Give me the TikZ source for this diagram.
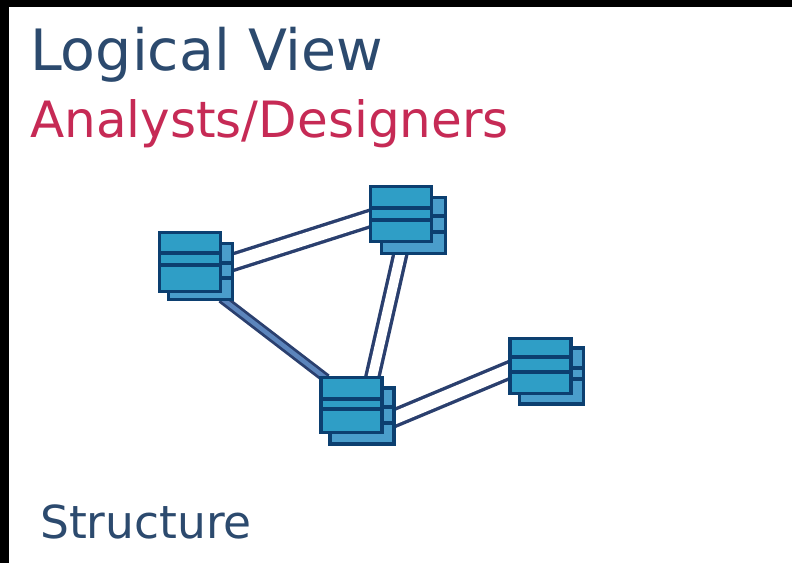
\documentclass[tikz,border=0pt]{standalone}
\usepackage{fontspec}
\setmainfont{DejaVu Sans}
\usetikzlibrary{
    backgrounds,
    calc,
}
\definecolor{BoxFront}{HTML}{2F9EC6}
\definecolor{BoxBack}{HTML}{4A9DCB}
\definecolor{BoxEdge}{HTML}{0C3F70}
\definecolor{LinkEdge}{HTML}{2A3F6E}
\definecolor{LinkFill}{HTML}{5C85BC}
\definecolor{TitleBlue}{HTML}{2C4A6E}
\definecolor{TitleRed}{HTML}{C62A55}
\tikzstyle{boxfront}=[draw=BoxEdge,fill=BoxFront,line width=3.2pt,rectangle,inner sep=0pt,outer sep=0pt,minimum width=61pt,minimum height=55pt]
\tikzstyle{boxback}=[draw=BoxEdge,fill=BoxBack,line width=3.2pt,rectangle,inner sep=0pt,outer sep=0pt,minimum width=64pt,minimum height=56pt]
\tikzstyle{stripe}=[draw=BoxEdge,line width=3.2pt]
\tikzstyle{link}=[draw=LinkEdge,line width=3.4pt,double=white,double distance=12.5pt,shorten <=-2pt,shorten >=-2pt]
\tikzstyle{title}=[anchor=base west,inner sep=0pt]
\newcommand{\ClassBox}[6][]{%
    \node[boxback] (#2 back) at ($(#3)+(#4)$) {};
    \foreach \s in {#5} {
        \coordinate (stripe start) at ($(#3)+(20,\s)$);
        \draw[stripe] (stripe start) -- (stripe start -| #2 back.east);
    }
    \node[boxfront,#1] (#2) at (#3) {};
    \foreach \s in {#6} {
        \draw[stripe] ($(#2.west)+(0,\s)$) -- ($(#2.east)+(0,\s)$);
    }
}
\begin{document}
\begin{tikzpicture}[x=1pt,y=-1pt]
    \useasboundingbox (0,0) rectangle (792,563);

    % Titles
    \node[title,font=\fontsize{57pt}{57pt}\selectfont,text=TitleBlue] (logical) at (30,70) {Logical View};
    \node[title,font=\fontsize{50pt}{50pt}\selectfont,text=TitleRed] (analysts) at (30,137) {Analysts/Designers};
    \node[title,font=\fontsize{45.5pt}{46pt}\selectfont,text=TitleBlue] (structure) at (40,538) {Structure};

    % Boxes
    \ClassBox[minimum height=59pt]{ClassA}{190,262}{10.5,9.5}{1,16}{-9,3}
    \ClassBox{ClassB}{401,214}{12.5,11.5}{2,18}{-6,6}
    \ClassBox{ClassC}{351.5,405}{10.5,11}{2,18}{-6,4}
    \ClassBox{ClassD}{540.5,366}{11,10}{2,13}{-9,6}

    \begin{scope}[on background layer]
        \fill[black] (0,0) rectangle (792,563);
        \fill[white] (9,7) rectangle (792,563);
        \draw[link] (ClassA back.16) -- (ClassB.188);
        \draw[link,double distance=9.5pt] (ClassB back.245) -- (ClassC.53);
        \draw[link,line width=2.8pt,double=LinkFill,double distance=4.5pt] (ClassA back.-51) -- (ClassC.134);
        \draw[link] (ClassC back.-4) -- (ClassD.187);
    \end{scope}
\end{tikzpicture}
\end{document}
